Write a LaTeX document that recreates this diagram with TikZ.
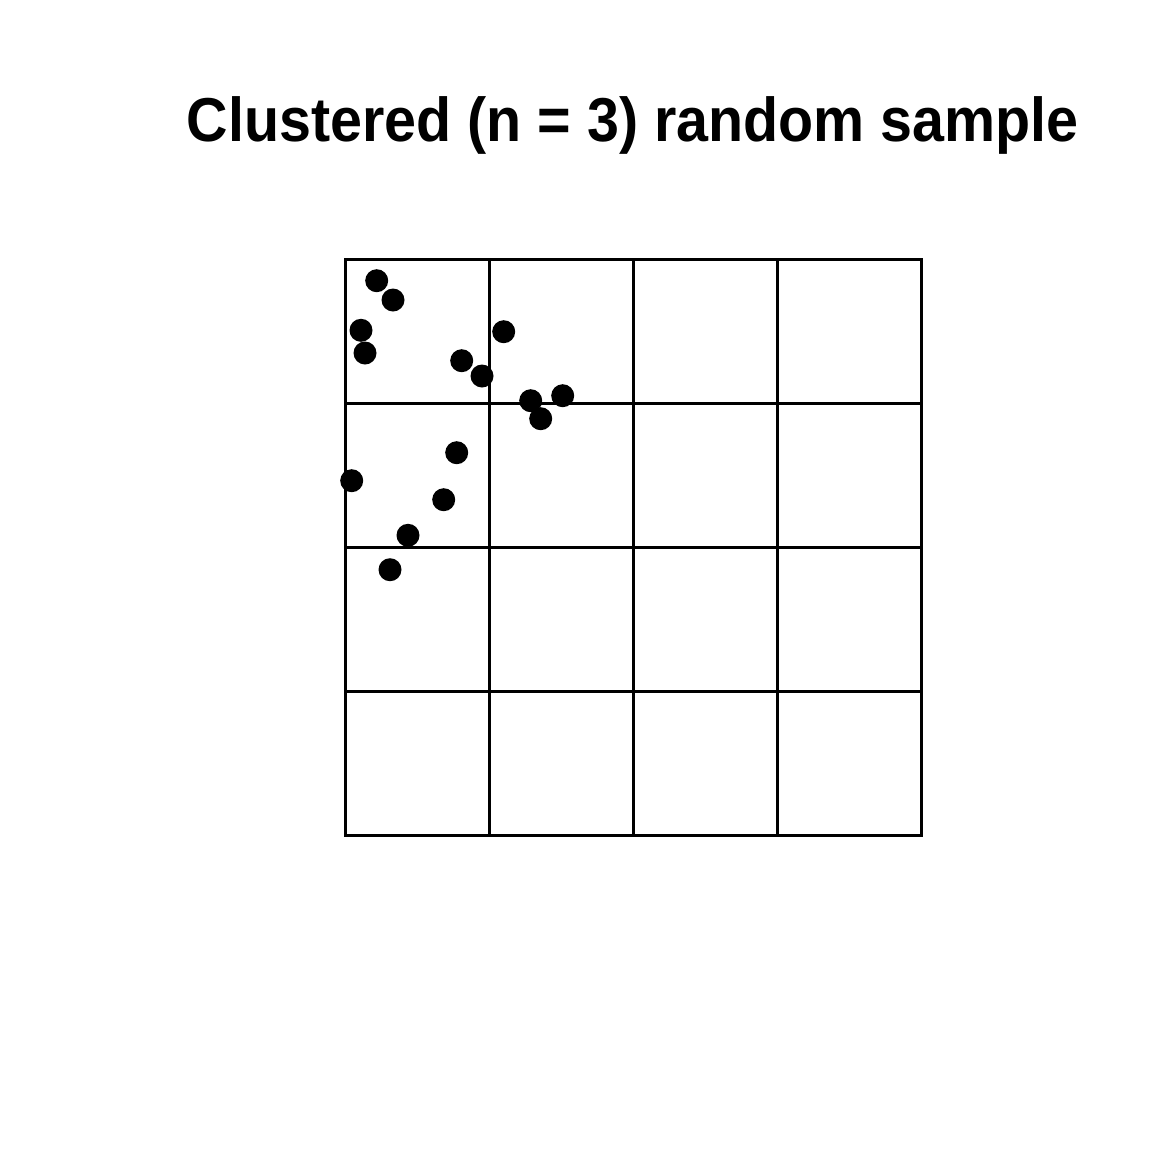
\documentclass[tikz,border=0pt]{standalone}
\usepackage{fontspec}
\setmainfont{Liberation Sans}
\begin{document}
\begin{tikzpicture}[x=1pt,y=-1pt,
  gridline/.style={line width=3pt,line cap=rect},
  pt/.style={fill=black}]
\useasboundingbox[fill=white] (0,0) rectangle (1152,1152);
\node[anchor=base,inner sep=0pt,font=\bfseries\fontsize{62}{70}\selectfont] (title) at (632.8,141.7) {\scalebox{0.926}[1]{Clustered (n = 3) random sample}};
\foreach \i in {0,1,2,3,4}{
  \draw[gridline] ({345+144*\i},259) -- ({345+144*\i},835);
  \draw[gridline] (345,{259+144*\i}) -- (921,{259+144*\i});
}
\foreach \x/\y in {376.7/280.7, 393/300, 361/330.3, 365/353, 503.7/331.7, 461.7/360.7, 482/376, 530.7/400.7, 562.7/395.7, 540.7/418.7, 456.7/452.7, 351.7/480.7, 443.7/499.7, 408/535.3, 390/569.7}{
  \fill[pt] (\x,\y) circle (11.5);
}
\end{tikzpicture}
\end{document}
